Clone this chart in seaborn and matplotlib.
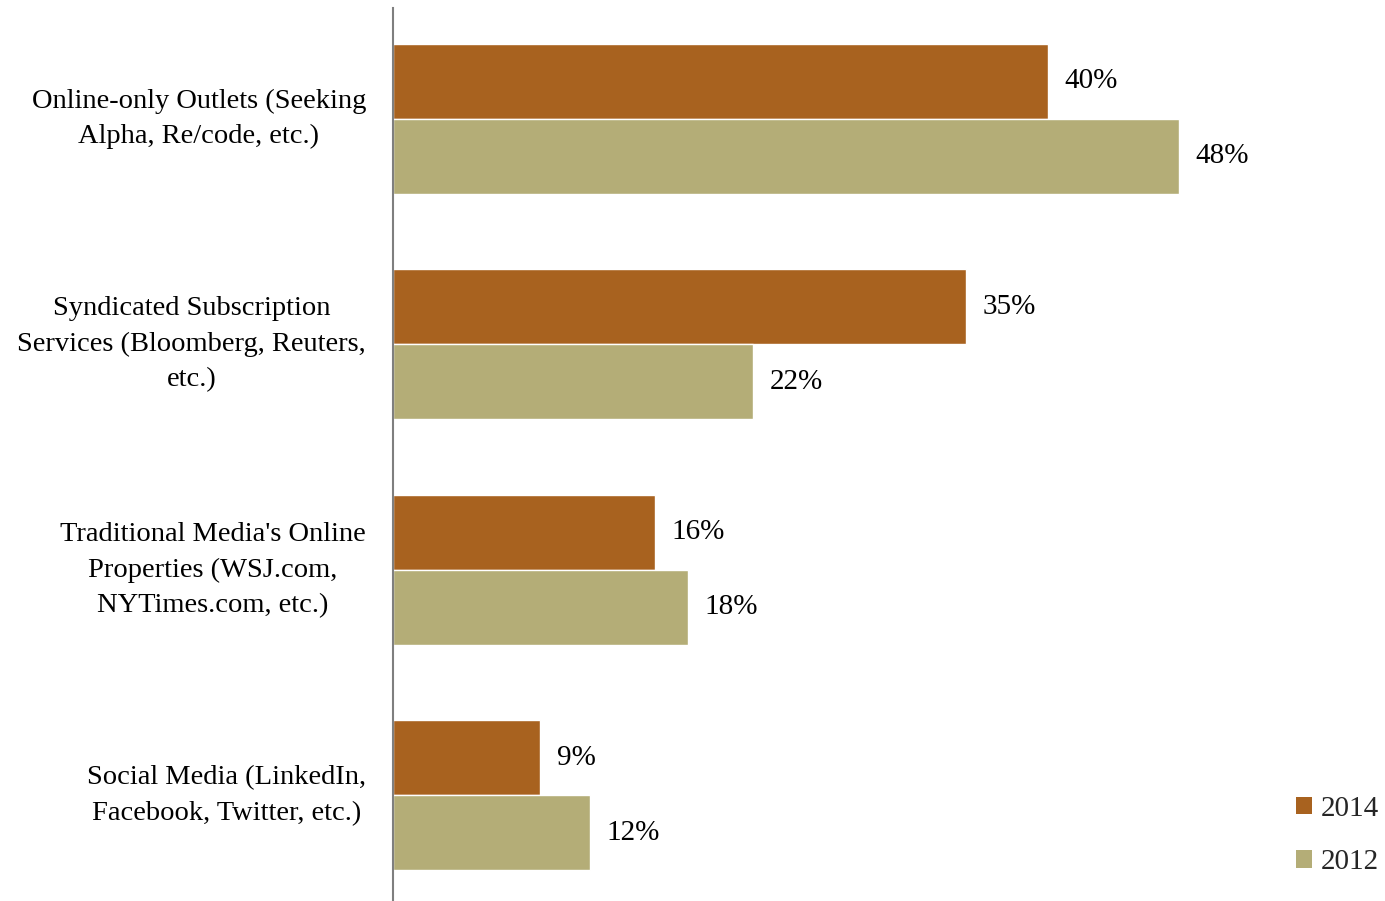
import matplotlib
matplotlib.use("Agg")
import matplotlib.pyplot as plt
import matplotlib.transforms as mtransforms
import seaborn as sns
import pandas as pd
from matplotlib.patches import Patch

categories = [
    "Online-only Outlets (Seeking\nAlpha, Re/code, etc.)",
    "Syndicated Subscription\nServices (Bloomberg, Reuters,\netc.)",
    "Traditional Media's Online\nProperties (WSJ.com,\nNYTimes.com, etc.)",
    "Social Media (LinkedIn,\nFacebook, Twitter, etc.)",
]
years = ["2014", "2012"]
values_2014 = [40, 35, 16, 9]
values_2012 = [48, 22, 18, 12]
colors = {"2014": "#A8621F", "2012": "#B4AD77"}

df = pd.DataFrame({
    "category": categories * 2,
    "year": ["2014"] * 4 + ["2012"] * 4,
    "value": values_2014 + values_2012,
})

sns.set_theme(style="white")
plt.rcParams["font.family"] = ["Liberation Serif", "DejaVu Serif"]

fig = plt.figure(figsize=(13.85, 9.01), dpi=100)
ax = fig.add_axes([393 / 1385, -7 / 901, (1375.5 - 393) / 1385, 902 / 901])

sns.barplot(data=df, y="category", x="value", hue="year", order=categories,
            hue_order=years, palette=colors, width=0.665, orient="h",
            saturation=1, legend=False, ax=ax)

ax.set_xlim(0, 60)
ax.set_ylim(3.5, -0.5)
ax.set_xlabel("")
ax.set_ylabel("")
ax.set_xticks([])
for side in ["top", "right", "bottom"]:
    ax.spines[side].set_visible(False)
ax.spines["left"].set_color("#7F7F7F")
ax.spines["left"].set_linewidth(1.5)
ax.spines["left"].set_bounds(-0.5 + 2 / 225, 3.5)
ax.tick_params(axis="y", length=0, pad=19.5)
# nudge category labels slightly upward
lift = mtransforms.ScaledTranslation(0, 8 / 100, fig.dpi_scale_trans)
for lbl in ax.get_yticklabels():
    lbl.set_fontsize(20.5)
    lbl.set_multialignment("center")
    lbl.set_linespacing(1.55)
    lbl.set_color("black")
    lbl.set_transform(lbl.get_transform() + lift)

for container in ax.containers:
    ax.bar_label(container, labels=[f"{v:.0f}%" for v in container.datavalues],
                 padding=12, fontsize=21, color="black")

handles = [Patch(facecolor=colors[y], edgecolor="none") for y in years]
fig.legend(handles, years, loc="lower right", bbox_to_anchor=(1.0, 0.022),
           frameon=False, fontsize=21, handlelength=0.55, handleheight=0.55,
           handletextpad=0.3, labelspacing=0.95, borderaxespad=0, borderpad=0.2)

fig.savefig("out.png", dpi=100)
